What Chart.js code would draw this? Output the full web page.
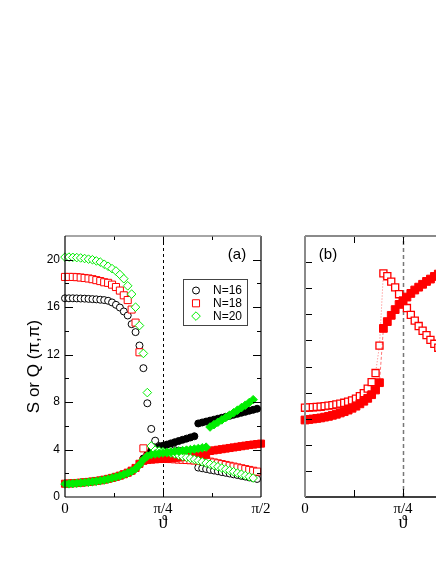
<!DOCTYPE html>
<html>
<head>
<meta charset="utf-8">
<script src="https://cdn.jsdelivr.net/npm/chart.js@4.4.0/dist/chart.umd.min.js"></script>
<style>
  html, body { margin: 0; padding: 0; background: #fff; }
  body { width: 436px; height: 564px; position: relative; overflow: hidden; }
  #panelA { position: absolute; left: 0; top: 0; }
  #panelB { position: absolute; left: 290px; top: 0; }
</style>
</head>
<body>
<canvas id="panelA" width="290" height="564"></canvas>
<canvas id="panelB" width="230" height="564"></canvas>
<script>
// theta grid: index i means theta = i * pi/100
const xTickPos = [0, 25, 50];
const xTickLabels = ["0", "π/4", "π/2"];
const xMinorPos = [12.5, 37.5];
const yTicksA = [0, 4, 8, 12, 16, 20];
const yMinorA = [2, 6, 10, 14, 18];
const yTicksB = [1, 2, 3, 4, 5, 6, 7, 8, 9];
const legendLabels = ["N=16", "N=18", "N=20"];

// panel (a), open symbols = S(pi,pi), filled = Q(pi,pi)
const s16 = [16.75, 16.75, 16.75, 16.74, 16.73, 16.72, 16.7, 16.68, 16.66, 16.63,
  16.6, 16.54, 16.4, 16.2, 15.97, 15.64, 15.3, 14.57, 13.9, 12.77,
  10.86, 7.9, 5.74, 4.75, 4.3, 4.1, 4.0, 3.97, 3.95, 3.9,
  3.87, 3.85, 3.82, 3.8, 2.48, 2.42, 2.36, 2.29, 2.23, 2.17,
  2.1, 2.04, 1.98, 1.91, 1.85, 1.78, 1.72, 1.65, 1.59, 1.52, null];
const q16 = [1.12, 1.13, 1.15, 1.18, 1.2, 1.23, 1.26, 1.3, 1.34, 1.39,
  1.45, 1.52, 1.6, 1.69, 1.79, 1.9, 2.02, 2.18, 2.4, 2.75,
  3.25, 3.6, 3.9, 4.1, 4.22, 4.32, 4.42, 4.52, 4.62, 4.72,
  4.82, 4.92, 5.02, 5.12, 6.2, 6.28, 6.36, 6.44, 6.52, 6.6,
  6.68, 6.76, 6.84, 6.93, 7.01, 7.1, 7.18, 7.27, 7.35, 7.44, null];
const s18 = [18.55, 18.55, 18.55, 18.53, 18.5, 18.46, 18.42, 18.36, 18.28, 18.2,
  18.1, 18.05, 17.9, 17.7, 17.4, 17.0, 16.6, 15.8, 14.7, 12.2,
  4.1, 3.35, 3.3, 3.28, 3.26, 3.24, 3.22, 3.2, 3.18, 3.16,
  3.14, 3.12, 3.1, 3.08, 3.06, 3.04, 3.02, 2.98, 2.91, 2.84,
  2.77, 2.7, 2.63, 2.56, 2.49, 2.42, 2.35, 2.28, 2.21, 2.14, null];
const q18 = [1.12, 1.14, 1.16, 1.18, 1.21, 1.24, 1.27, 1.31, 1.35, 1.4,
  1.46, 1.53, 1.61, 1.7, 1.8, 1.92, 2.05, 2.22, 2.45, 2.8,
  3.05, 3.12, 3.15, 3.18, 3.2, 3.22, 3.25, 3.28, 3.3, 3.33,
  3.36, 3.39, 3.42, 3.45, 3.48, 3.52, 3.56, 3.88, 3.93, 3.98,
  4.03, 4.08, 4.13, 4.18, 4.23, 4.28, 4.33, 4.38, 4.42, 4.46, 4.5];
const s20 = [20.22, 20.22, 20.2, 20.18, 20.15, 20.1, 20.05, 20.0, 19.9, 19.8,
  19.62, 19.45, 19.25, 19.05, 18.75, 18.4, 17.8, 17.1, 16.0, 14.45,
  12.1, 8.8, 4.3, 3.95, 3.88, 3.82, 3.76, 3.7, 3.62, 3.52,
  3.42, 3.34, 3.26, 3.17, 3.07, 2.97, 2.86, 2.76, 2.65, 2.55,
  2.44, 2.34, 2.23, 2.13, 2.02, 1.92, 1.81, 1.71, 1.6, null, null];
const q20 = [1.1, 1.11, 1.13, 1.16, 1.19, 1.22, 1.25, 1.29, 1.33, 1.38,
  1.44, 1.51, 1.6, 1.68, 1.78, 1.9, 2.02, 2.17, 2.38, 2.72,
  3.15, 3.45, 3.58, 3.63, 3.67, 3.71, 3.75, 3.79, 3.83, 3.87,
  3.91, 3.95, 3.99, 4.04, 4.09, 4.14, 4.2, 5.9, 6.1, 6.3,
  6.5, 6.7, 6.9, 7.1, 7.32, 7.53, 7.74, 7.96, 8.2, null, null];

// panel (b)
const bOpen = [3.42, 3.43, 3.44, 3.45, 3.46, 3.48, 3.5, 3.52, 3.55, 3.58,
  3.61, 3.65, 3.7, 3.77, 3.86, 3.98, 4.15, 4.4, 4.75, 5.8,
  8.57, 8.46, 8.25, 8.03, 7.77, 7.5, 7.24, 6.98, 6.76, 6.55,
  6.37, 6.2, 6.02, 5.87, 5.72];
const bFill = [2.95, 2.97, 2.99, 3.01, 3.03, 3.06, 3.09, 3.13, 3.17, 3.22,
  3.27, 3.33, 3.4, 3.48, 3.57, 3.67, 3.78, 3.92, 4.1, 4.38,
  6.46, 6.72, 6.96, 7.18, 7.38, 7.52, 7.66, 7.8, 7.93, 8.04,
  8.15, 8.26, 8.35, 8.45, 8.54];

Chart.defaults.font.family = "'Liberation Sans', Arial, sans-serif";
Chart.defaults.color = "#000";

function pts(vals) {
  return vals.map((v, i) => ({ x: i, y: v }));
}

const symbols = {
  "N=16": { pointStyle: "circle", radius: 3.5, color: "#000" },
  "N=18": { pointStyle: "rect", radius: 5, color: "#ff0000" },
  "N=20": { pointStyle: "rectRot", radius: 4.3, color: "#00ee00" },
};

function marks(n, vals, filled, order) {
  const s = symbols[n];
  return {
    label: n + (filled ? " Q" : " S"),
    data: pts(vals),
    showLine: false,
    pointStyle: s.pointStyle,
    pointRadius: s.radius,
    pointBorderWidth: 1,
    pointBorderColor: s.color,
    pointBackgroundColor: filled ? s.color : "#fff",
    order: order,
    clip: false,
  };
}

// frame, inside ticks and the dashed pi/4 line
const framePlugin = {
  id: "frame",
  beforeDatasetsDraw(chart, args, o) {
    const { ctx, chartArea: a, scales: { x } } = chart;
    const px = Math.round(x.getPixelForValue(o.dashAt)) + 0.5;
    ctx.save();
    ctx.strokeStyle = o.dashColor;
    ctx.lineWidth = o.dashWidth;
    ctx.setLineDash(o.dash);
    ctx.beginPath();
    ctx.moveTo(px, a.bottom);
    ctx.lineTo(px, a.top);
    ctx.stroke();
    ctx.restore();
  },
  afterDatasetsDraw(chart, args, o) {
    const { ctx, chartArea: a, scales: { x, y } } = chart;
    ctx.save();
    ctx.strokeStyle = "#000";
    ctx.lineWidth = 1;
    ctx.beginPath();
    const xt = (v, len) => {
      const px = Math.round(x.getPixelForValue(v)) + 0.5;
      ctx.moveTo(px, a.bottom); ctx.lineTo(px, a.bottom - len);
      ctx.moveTo(px, a.top); ctx.lineTo(px, a.top + len);
    };
    const yt = (v, len) => {
      const py = Math.round(y.getPixelForValue(v)) + 0.5;
      ctx.moveTo(a.left, py); ctx.lineTo(a.left + len, py);
      ctx.moveTo(a.right, py); ctx.lineTo(a.right - len, py);
    };
    o.xMajor.forEach(v => xt(v, o.major));
    o.xMinor.forEach(v => xt(v, o.minor));
    o.yMajor.forEach(v => yt(v, o.major));
    o.yMinor.forEach(v => yt(v, o.minor));
    ctx.stroke();
    const side = (s, x1, y1, x2, y2) => {
      ctx.strokeStyle = s.color;
      ctx.lineWidth = s.width;
      ctx.beginPath();
      ctx.moveTo(x1, y1);
      ctx.lineTo(x2, y2);
      ctx.stroke();
    };
    side(o.bottom, a.left, a.bottom, a.right, a.bottom);
    side(o.right, a.right, a.bottom, a.right, a.top);
    side(o.top, a.left, a.top, a.right, a.top);
    side(o.left, a.left, a.bottom, a.left, a.top);
    ctx.restore();
  },
  afterDraw(chart, args, o) {
    const { ctx, chartArea: a } = chart;
    ctx.save();
    ctx.fillStyle = "#000";
    ctx.font = "15px 'Liberation Sans', Arial, sans-serif";
    ctx.textAlign = "center";
    ctx.textBaseline = "middle";
    ctx.fillText(o.tag, o.tagRight ? a.right - 24 : a.left + 23, a.top + 19);
    if (o.legend) {
      const bx = a.left + 118, by = a.top + 43;
      ctx.strokeStyle = "#444";
      ctx.lineWidth = 1;
      ctx.strokeRect(bx + 0.5, by + 0.5, 64, 46);
      ctx.font = "12px 'Liberation Sans', Arial, sans-serif";
      ctx.textAlign = "left";
      legendLabels.forEach((n, k) => {
        const s = symbols[n];
        const yy = by + 11.5 + k * 12.8;
        ctx.fillStyle = "#fff";
        ctx.strokeStyle = s.color;
        Chart.helpers.drawPoint(ctx, { pointStyle: s.pointStyle, radius: s.radius, rotation: 0, borderWidth: 1 }, bx + 13, yy);
        ctx.fillStyle = "#000";
        ctx.fillText(n, bx + 30, yy + 0.5);
      });
    }
    ctx.restore();
  },
};

function xAxis() {
  return {
    type: "linear",
    min: 0,
    max: 50,
    afterFit: s => { s.height = 67; },
    afterBuildTicks: s => { s.ticks = xTickPos.map(v => ({ value: v })); },
    grid: { display: false, drawTicks: false },
    border: { display: false },
    ticks: {
      callback: (v, i) => xTickLabels[i],
      font: { family: "'Liberation Serif', 'Times New Roman', serif", size: 15 },
      padding: 3,
      maxRotation: 0,
      autoSkip: false,
    },
    title: {
      display: true,
      text: "ϑ",
      font: { family: "'Liberation Serif', 'Times New Roman', serif", size: 18 },
      padding: { top: 0, bottom: 30 },
    },
  };
}

new Chart(document.getElementById("panelA"), {
  type: "scatter",
  data: {
    datasets: [
      marks("N=20", q20, true, 1),
      marks("N=20", s20, false, 2),
      marks("N=18", q18, true, 3),
      marks("N=18", s18, false, 4),
      marks("N=16", q16, true, 5),
      marks("N=16", s16, false, 6),
    ],
  },
  options: {
    responsive: false,
    animation: false,
    layout: { padding: { left: 0, right: 29, top: 236, bottom: 0 } },
    scales: {
      x: xAxis(),
      y: {
        min: 0,
        max: 22,
        afterFit: s => { s.width = 65; },
        afterBuildTicks: s => { s.ticks = yTicksA.map(v => ({ value: v })); },
        grid: { display: false, drawTicks: false },
        border: { display: false },
        ticks: { font: { size: 12 }, padding: 5 },
        title: {
          display: true,
          text: "S or Q (π,π)",
          font: { size: 17 },
          padding: { top: 24, bottom: 0 },
        },
      },
    },
    plugins: {
      legend: { display: false },
      tooltip: { enabled: false },
      frame: {
        xMajor: [25], xMinor: xMinorPos,
        yMajor: yTicksA.slice(1), yMinor: yMinorA,
        major: 8, minor: 4,
        dashAt: 25, dashColor: "#000", dashWidth: 1, dash: [3, 3],
        left: { color: "#000", width: 1.2 },
        right: { color: "#000", width: 1.2 },
        bottom: { color: "#000", width: 1.2 },
        top: { color: "#888", width: 1.5 },
        tag: "(a)", tagRight: true, legend: true,
      },
    },
  },
  plugins: [framePlugin],
});

new Chart(document.getElementById("panelB"), {
  type: "scatter",
  data: {
    datasets: [
      {
        label: "filled",
        data: pts(bFill),
        showLine: true,
        borderColor: "rgba(255,0,0,0.55)",
        borderWidth: 1,
        borderDash: [3, 2],
        pointStyle: "rect",
        pointRadius: 5.5,
        pointBorderWidth: 1,
        pointBorderColor: "#ff0000",
        pointBackgroundColor: "#ff0000",
        order: 1,
        clip: false,
      },
      {
        label: "open",
        data: pts(bOpen),
        showLine: true,
        borderColor: "rgba(255,0,0,0.55)",
        borderWidth: 1,
        borderDash: [1, 2],
        pointStyle: "rect",
        pointRadius: 5,
        pointBorderWidth: 1.3,
        pointBorderColor: "#ff0000",
        pointBackgroundColor: "#fff",
        order: 2,
        clip: false,
      },
    ],
  },
  options: {
    responsive: false,
    animation: false,
    layout: { padding: { left: 15, right: 19, top: 236, bottom: 0 } },
    scales: {
      x: xAxis(),
      y: { display: false, min: 0, max: 10 },
    },
    plugins: {
      legend: { display: false },
      tooltip: { enabled: false },
      frame: {
        xMajor: [25], xMinor: xMinorPos,
        yMajor: [], yMinor: yTicksB,
        major: 8, minor: 7,
        dashAt: 25, dashColor: "#777", dashWidth: 1.5, dash: [4, 3],
        left: { color: "#8a8a8a", width: 2 },
        right: { color: "#000", width: 1.2 },
        bottom: { color: "#000", width: 1.5 },
        top: { color: "#8a8a8a", width: 2 },
        tag: "(b)", tagRight: false, legend: false,
      },
    },
  },
  plugins: [framePlugin],
});
</script>
</body>
</html>
